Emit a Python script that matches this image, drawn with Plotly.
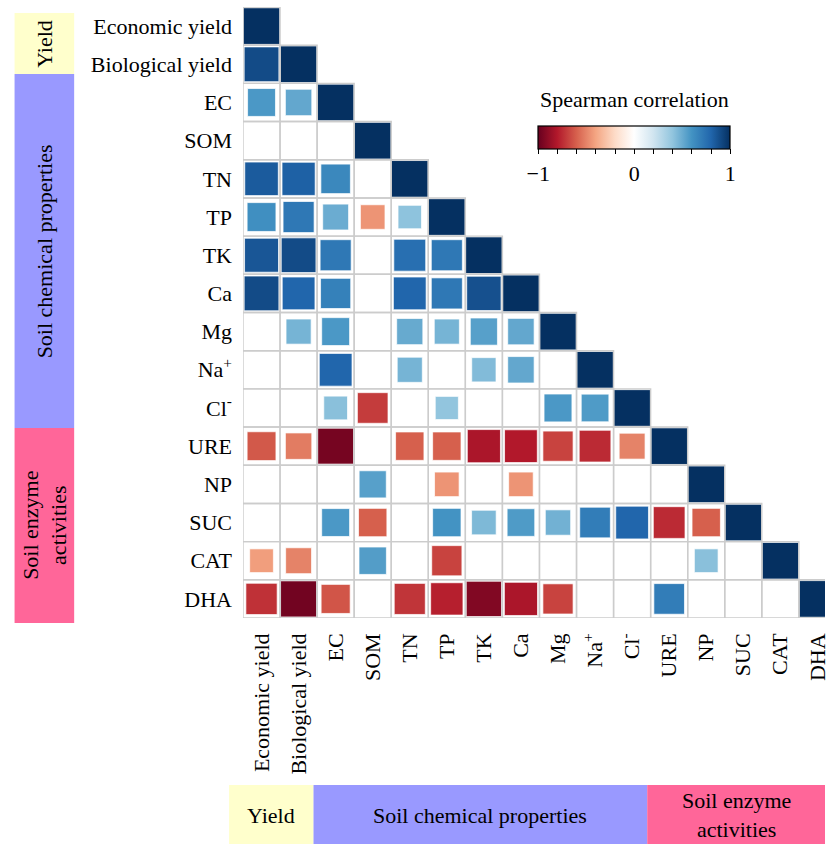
import numpy as np
import plotly.graph_objects as go

# Variables (row/column order of the correlation matrix)
tick_labels = ["Economic yield", "Biological yield", "EC", "SOM", "TN", "TP", "TK",
               "Ca", "Mg", "Na<sup>+</sup>", "Cl<sup>-</sup>", "URE", "NP", "SUC",
               "CAT", "DHA"]

# Lower triangle of the Spearman correlation matrix (row i holds columns 0..i-1).
# None marks a non-significant pair that is left blank.
lower = [
    [],
    [0.90],
    [0.58, 0.52],
    [None, None, None],
    [0.84, 0.82, 0.65, None],
    [0.62, 0.72, 0.50, -0.45, 0.41],
    [0.86, 0.90, 0.72, None, 0.76, 0.72],
    [0.90, 0.80, 0.68, None, 0.80, 0.72, 0.88],
    [None, 0.47, 0.58, None, 0.51, 0.47, 0.55, 0.52],
    [None, None, 0.80, None, 0.47, None, 0.44, 0.52, None],
    [None, None, 0.42, -0.70, None, 0.40, None, None, 0.58, 0.57],
    [-0.62, -0.52, -0.96, None, -0.60, -0.60, -0.82, -0.80, -0.68, -0.75, -0.50],
    [None, None, None, 0.55, None, -0.45, None, -0.45, None, None, None, None],
    [None, None, 0.58, -0.60, None, 0.60, 0.45, 0.57, 0.48, 0.70, 0.80, -0.75, -0.60],
    [-0.42, -0.50, None, 0.56, None, -0.68, None, None, None, None, None, None, 0.42, None],
    [-0.73, -0.97, -0.63, None, -0.72, -0.78, -0.93, -0.82, -0.68, None, None, 0.70, None, None, None],
]

# Variable groups and their colours
group_names = ["Yield", "Soil chemical properties", "Soil enzyme<br>activities"]
group_colors = ["#FFFFCC", "#9999FF", "#FF6699"]

n = len(tick_labels)
FONT = "Liberation Serif"
FS = 22

# Figure geometry (pixels)
W, H = 829, 844
PL, PT = 243, 7            # plot area left / top
GRID_R, GRID_B = 840, 618  # right / bottom edge of full grid
CELL_W = (GRID_R - PL) / n
PW = W - PL
PH = GRID_B - PT
CELL = 36.6

def paper_x(px):
    return (px - PL) / PW

def paper_y(py):
    return (GRID_B - py) / PH

xs, ys, vals = [], [], []
for i in range(n):
    for j in range(i + 1):
        v = 1.0 if i == j else lower[i][j]
        if v is None:
            continue
        xs.append(j)
        ys.append(i)
        vals.append(v)
vals = np.array(vals)

rdbu = ["#67001F", "#B2182B", "#D6604D", "#F4A582", "#FDDBC7", "#FFFFFF",
        "#D1E5F0", "#92C5DE", "#4393C3", "#2166AC", "#053061"]
colorscale = [[k / 10, c] for k, c in enumerate(rdbu)]

fig = go.Figure()
fig.add_trace(go.Scatter(
    x=xs, y=ys, mode="markers",
    marker=dict(
        symbol="square",
        size=np.sqrt(np.abs(vals)) * CELL,
        opacity=1,
        color=vals, colorscale=colorscale, cmin=-1, cmax=1,
        line=dict(width=1, color="rgba(255,255,255,0.7)"),
        colorbar=dict(
            orientation="h",
            x=paper_x(637), xanchor="center", xpad=0,
            y=paper_y(101), yanchor="top", ypad=0,
            lenmode="pixels", len=192,
            thicknessmode="pixels", thickness=23,
            outlinecolor="black", outlinewidth=1.2,
            ticks="outside", ticklen=5, tickcolor="black", tickwidth=1,
            tickvals=[-1, -0.8, -0.6, -0.4, -0.2, 0, 0.2, 0.4, 0.6, 0.8, 1],
            ticktext=["\u22121", " ", " ", " ", " ", "0", " ", " ", " ", " ", "1"],
            tickfont=dict(family=FONT, size=FS, color="black"),
            title=dict(text="Spearman correlation", side="top",
                       font=dict(family=FONT, size=FS, color="black")),
        ),
    ),
    hoverinfo="skip", showlegend=False,
))

# Cell borders of the lower triangle
shapes = []
for i in range(n):
    for j in range(i + 1):
        shapes.append(dict(type="rect", xref="x", yref="y",
                           x0=j - 0.5, x1=j + 0.5, y0=i - 0.5, y1=i + 0.5,
                           line=dict(color="#CCCCCC", width=1.4), layer="above"))

# Group bars: left (vertical) and bottom (horizontal), in pixel spans
left_spans = [(13, 74), (74, 428), (428, 623)]
bottom_spans = [(229, 314), (314, 650), (650, 829)]
annotations = []
for name, col, (y0, y1), (x0, x1) in zip(group_names, group_colors, left_spans, bottom_spans):
    shapes.append(dict(type="rect", xref="paper", yref="paper",
                       x0=paper_x(13), x1=paper_x(73), y0=paper_y(y1), y1=paper_y(y0),
                       fillcolor=col, line=dict(width=0), layer="below"))
    annotations.append(dict(xref="paper", yref="paper", x=paper_x(43),
                            y=paper_y((y0 + y1) / 2), text=name, textangle=-90,
                            showarrow=False, xanchor="center", yanchor="middle",
                            font=dict(family=FONT, size=FS, color="black")))
    shapes.append(dict(type="rect", xref="paper", yref="paper",
                       x0=paper_x(x0), x1=paper_x(x1), y0=paper_y(844), y1=paper_y(785),
                       fillcolor=col, line=dict(width=0), layer="below"))
    annotations.append(dict(xref="paper", yref="paper", x=paper_x((x0 + x1) / 2),
                            y=paper_y(815), text=name, showarrow=False,
                            xanchor="center", yanchor="middle",
                            font=dict(family=FONT, size=FS, color="black")))

axis_common = dict(showgrid=False, zeroline=False, showline=False, ticks="",
                   tickfont=dict(family=FONT, size=FS, color="black"),
                   tickmode="array", tickvals=list(range(n)), ticktext=tick_labels,
                   fixedrange=True, ticklabelstandoff=10, ticklabeloverflow="allow")

fig.update_layout(
    width=W, height=H,
    margin=dict(l=PL, r=0, t=PT, b=H - GRID_B, pad=0),
    paper_bgcolor="white", plot_bgcolor="white",
    xaxis=dict(range=[-0.5, -0.5 + PW / CELL_W], tickangle=-90, **axis_common),
    yaxis=dict(range=[n - 0.5, -0.5], **axis_common),
    shapes=shapes, annotations=annotations,
)

fig.write_html("out.html")
